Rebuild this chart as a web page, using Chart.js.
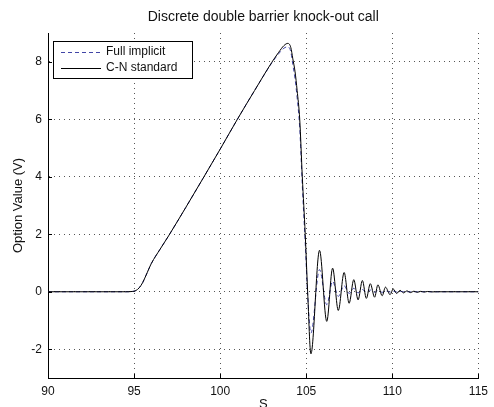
<!DOCTYPE html>
<html>
<head>
<meta charset="utf-8">
<script src="https://cdn.jsdelivr.net/npm/chart.js@4"></script>
<style>
  body { margin: 0; background: #fff; }
</style>
</head>
<body>
<canvas id="optionChart" width="494" height="407"></canvas>
<script>
const sValues = [90, 94.5, 94.9, 95.1, 95.3, 95.5, 95.7, 96, 96.5, 97, 98, 99, 100, 101, 102, 103, 103.4, 103.7, 103.93,
    104.1, 104.22, 104.35, 104.47, 104.62, 104.77, 104.94, 105.08, 105.27, 105.77, 106.19, 106.53, 106.86, 107.2,
    107.49, 107.76, 108.01, 108.26, 108.49, 108.72, 108.97, 109.16, 109.41, 109.6, 109.87, 110.05, 110.25, 110.45,
    110.65, 110.85, 111.05, 111.25, 111.45, 111.65, 111.85, 112.05, 112.3, 112.6, 115];

const cnStandard = [0, 0, 0.01, 0.04, 0.14, 0.32, 0.58, 0.98, 1.47, 1.94, 2.93, 3.94, 4.96, 6.0, 7.0, 7.98, 8.33, 8.56, 8.64,
    8.5, 8.1, 7.65, 7.0, 6.0, 4.0, 2.0, 0, -2.16, 1.44, -1.03, 0.82, -0.65, 0.67,
    -0.40, 0.42, -0.28, 0.39, -0.23, 0.28, -0.19, 0.24, -0.14, 0.16, -0.10, 0.10, -0.06, 0.05,
    -0.04, 0.03, -0.03, 0.02, -0.02, 0.015, -0.01, 0.01, -0.005, 0, 0];

const fullImplicit = [0, 0, 0.01, 0.04, 0.14, 0.32, 0.58, 0.98, 1.47, 1.94, 2.93, 3.94, 4.96, 6.0, 7.0, 7.96, 8.28, 8.47, 8.52,
    8.35, 7.9, 7.4, 6.75, 5.7, 3.7, 1.7, -0.1, -1.44, 0.77, -0.45, 0.36, -0.16, 0.21,
    -0.06, 0.12, -0.04, 0.08, -0.03, 0.06, -0.02, 0.04, -0.02, 0.03, -0.01, 0.02, -0.01, 0.01,
    0, 0, 0, 0, 0, 0, 0, 0, 0, 0, 0];

const xTicks = [90, 95, 100, 105, 110, 115];
const yTicks = [-2, 0, 2, 4, 6, 8];

const seriesNames = ['Full implicit', 'C-N standard'];
const titleText = 'Discrete double barrier knock-out call';
const xTitle = 'S';
const yTitle = 'Option Value (V)';

const FONT = "'Liberation Sans', Arial, Helvetica, sans-serif";
const implicitColor = '#4145a6';

function toPoints(ys) {
    return sValues.map((s, i) => ({ x: s, y: ys[i] }));
}

// titles, inward ticks and legend box drawn on top of the chart
const decorations = {
    id: 'decorations',
    afterDraw(chart) {
        const ctx = chart.ctx;
        const area = chart.chartArea;
        const xs = chart.scales.x;
        const ys = chart.scales.y;
        ctx.save();

        // inward tick marks
        ctx.strokeStyle = '#000';
        ctx.lineWidth = 1;
        ctx.beginPath();
        xTicks.forEach(v => {
            const px = Math.round(xs.getPixelForValue(v)) + 0.5;
            ctx.moveTo(px, area.bottom);
            ctx.lineTo(px, area.bottom - 4);
        });
        yTicks.forEach(v => {
            const py = Math.round(ys.getPixelForValue(v)) + 0.5;
            ctx.moveTo(area.left, py);
            ctx.lineTo(area.left + 4, py);
        });
        ctx.stroke();

        // titles
        ctx.fillStyle = '#111';
        ctx.font = '14px ' + FONT;
        ctx.textAlign = 'center';
        ctx.textBaseline = 'middle';
        ctx.fillText(titleText, (area.left + area.right) / 2, 17);

        ctx.font = '13px ' + FONT;
        ctx.textBaseline = 'top';
        ctx.fillText(xTitle, (area.left + area.right) / 2, 398);

        ctx.save();
        ctx.translate(18, (area.top + area.bottom) / 2);
        ctx.rotate(-Math.PI / 2);
        ctx.textBaseline = 'middle';
        ctx.fillText(yTitle, 0, 0);
        ctx.restore();

        // legend
        const bx = 53.5, by = 41.5, bw = 139, bh = 37;
        ctx.fillStyle = '#fff';
        ctx.fillRect(bx, by, bw, bh);
        ctx.strokeStyle = '#000';
        ctx.strokeRect(bx, by, bw, bh);

        const rows = [52, 68];
        ctx.lineWidth = 1;
        ctx.strokeStyle = implicitColor;
        ctx.setLineDash([4, 3]);
        ctx.beginPath();
        ctx.moveTo(61, rows[0] + 0.5);
        ctx.lineTo(101, rows[0] + 0.5);
        ctx.stroke();
        ctx.setLineDash([]);
        ctx.strokeStyle = '#000';
        ctx.beginPath();
        ctx.moveTo(61, rows[1] + 0.5);
        ctx.lineTo(101, rows[1] + 0.5);
        ctx.stroke();

        ctx.fillStyle = '#111';
        ctx.font = '12px ' + FONT;
        ctx.textAlign = 'left';
        ctx.textBaseline = 'middle';
        ctx.fillText(seriesNames[0], 106, rows[0]);
        ctx.fillText(seriesNames[1], 106, rows[1]);
        ctx.restore();
    }
};

new Chart(document.getElementById('optionChart'), {
    type: 'line',
    data: {
        datasets: [{
            label: seriesNames[0],
            data: toPoints(fullImplicit),
            borderColor: implicitColor,
            borderWidth: 1,
            borderDash: [4, 3],
            pointRadius: 0,
            cubicInterpolationMode: 'monotone',
            order: 1
        }, {
            label: seriesNames[1],
            data: toPoints(cnStandard),
            borderColor: '#000',
            borderWidth: 1,
            pointRadius: 0,
            cubicInterpolationMode: 'monotone',
            order: 0
        }]
    },
    options: {
        responsive: false,
        animation: false,
        layout: { padding: { top: 33, right: 11, left: 0, bottom: 0 } },
        scales: {
            x: {
                type: 'linear',
                min: 90,
                max: 115,
                afterBuildTicks: scale => { scale.ticks = xTicks.map(v => ({ value: v })); },
                afterFit: scale => { scale.height = 29; },
                grid: { color: '#555', lineWidth: 1, drawTicks: false },
                border: { display: true, color: '#000', width: 1, dash: [1, 4] },
                ticks: { padding: 6, color: '#111', font: { family: FONT, size: 12 }, maxRotation: 0 }
            },
            y: {
                type: 'linear',
                min: -3,
                max: 9,
                afterBuildTicks: scale => { scale.ticks = yTicks.map(v => ({ value: v })); },
                afterFit: scale => { scale.width = 48; },
                grid: { color: '#555', lineWidth: 1, drawTicks: false },
                border: { display: true, color: '#000', width: 1, dash: [1, 4] },
                ticks: { padding: 6, color: '#111', font: { family: FONT, size: 12 } }
            }
        },
        plugins: {
            legend: { display: false },
            title: { display: false },
            tooltip: { enabled: false }
        }
    },
    plugins: [decorations]
});
</script>
</body>
</html>
